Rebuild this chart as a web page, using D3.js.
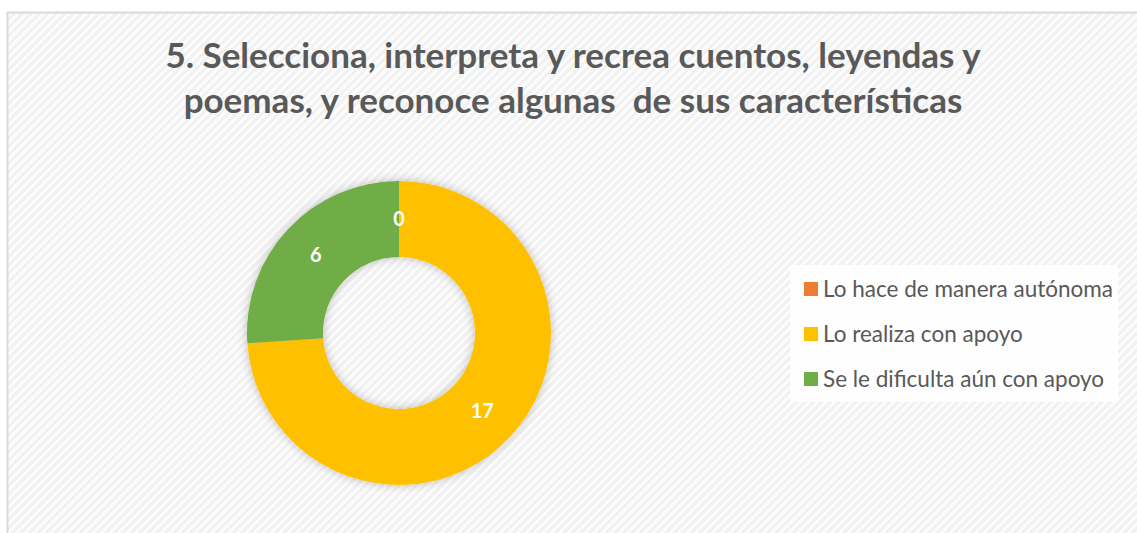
<!DOCTYPE html>
<html>
<head>
<meta charset="utf-8">
<script src="https://cdn.jsdelivr.net/npm/d3@7"></script>
<style>
  body { margin: 0; background: #fff; }
  svg { display: block; }
  text { white-space: pre; }
</style>
</head>
<body>
<div id="chart"></div>
<script>
// chart data
const categories = ["Lo hace de manera autónoma", "Lo realiza con apoyo", "Se le dificulta aún con apoyo"];
const values = [0, 17, 6];
const colors = ["#ED7D31", "#FFC000", "#70AD47"];
const titleLines = [
  "5. Selecciona, interpreta y recrea cuentos, leyendas y",
  "poemas, y reconoce algunas  de sus características"
];

const W = 1137, H = 533;
const svg = d3.select("#chart").append("svg")
  .attr("width", W)
  .attr("height", H);

const defs = svg.append("defs");
const pat = defs.append("pattern")
  .attr("id", "stripes")
  .attr("width", 6)
  .attr("height", 6)
  .attr("patternUnits", "userSpaceOnUse")
  .attr("patternTransform", "rotate(45)");
pat.append("rect").attr("width", 6).attr("height", 6).attr("fill", "#fcfcfc");
pat.append("rect").attr("width", 3).attr("height", 6).attr("fill", "#f1f1f1");

const shadow = defs.append("filter")
  .attr("id", "shadow")
  .attr("x", "-20%").attr("y", "-20%")
  .attr("width", "140%").attr("height", "140%");
shadow.append("feDropShadow")
  .attr("dx", 0).attr("dy", 0)
  .attr("stdDeviation", 5)
  .attr("flood-color", "#000")
  .attr("flood-opacity", 0.25);

// chart area with border
svg.append("rect")
  .attr("x", 7.5).attr("y", 12.5)
  .attr("width", W + 10).attr("height", H)
  .attr("fill", "url(#stripes)")
  .attr("stroke", "#d9d9d9")
  .attr("stroke-width", 2);

// title
svg.append("g")
  .selectAll("text")
  .data(titleLines)
  .join("text")
  .attr("x", 573)
  .attr("y", (d, i) => 68 + i * 45)
  .attr("text-anchor", "middle")
  .style("font-family", "Lato, 'Open Sans', sans-serif")
  .style("font-weight", "bold")
  .style("font-size", "35px")
  .attr("fill", "#595959")
  .text(d => d);

// donut
const cx = 399, cy = 333;
const outerR = 152, innerR = 76;
const pie = d3.pie().sort(null).value(d => d.value);
const arc = d3.arc().innerRadius(innerR).outerRadius(outerR);
const labelArc = d3.arc().innerRadius((innerR + outerR) / 2).outerRadius((innerR + outerR) / 2);

const pieData = pie(categories.map((c, i) => ({ name: c, value: values[i], color: colors[i] })));

const donut = svg.append("g")
  .attr("transform", `translate(${cx}, ${cy})`);

donut.append("g")
  .attr("filter", "url(#shadow)")
  .selectAll("path")
  .data(pieData)
  .join("path")
  .attr("d", arc)
  .attr("fill", d => d.data.color);

donut.append("g")
  .selectAll("text")
  .data(pieData)
  .join("text")
  .attr("transform", d => `translate(${labelArc.centroid(d)})`)
  .attr("text-anchor", "middle")
  .attr("dy", "0.35em")
  .style("font-family", "Lato, 'Open Sans', sans-serif")
  .style("font-weight", "bold")
  .style("font-size", "20px")
  .attr("fill", "#fff")
  .text(d => d.data.value);

// legend
const legend = svg.append("g");
legend.append("rect")
  .attr("x", 790).attr("y", 265)
  .attr("width", 328).attr("height", 137)
  .attr("fill", "#fefefe");

const rows = legend.selectAll("g.item")
  .data(categories)
  .join("g")
  .attr("class", "item")
  .attr("transform", (d, i) => `translate(804, ${282 + i * 45})`);

rows.append("rect")
  .attr("width", 14).attr("height", 14)
  .attr("fill", (d, i) => colors[i]);

rows.append("text")
  .attr("x", 19)
  .attr("y", 15)
  .style("font-family", "Lato, 'Open Sans', sans-serif")
  .style("font-size", "22.5px")
  .attr("fill", "#595959")
  .text(d => d);
</script>
</body>
</html>
